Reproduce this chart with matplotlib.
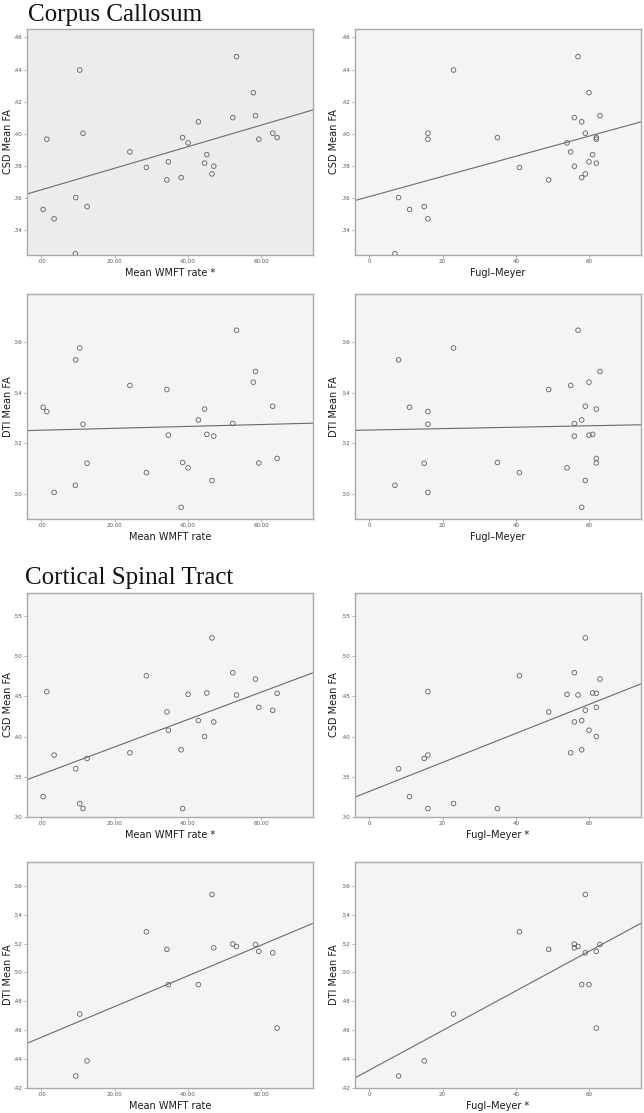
"""FA vs motor score scatter panels (CSD / DTI, corpus callosum and CST)."""

import matplotlib

matplotlib.use("Agg")

import matplotlib.pyplot as plt
import numpy as np

nan = np.nan

# one entry per subject
wmft = [53.3, 10.5, 9.4, 58.5, 57.9, 24.2, 34.3, 63.2, 0.5, 44.6, 1.5, 42.9, 11.4, 52.3,
        45.2, 34.7, 47.1, 12.5, 38.6, 59.4, 64.4, 40.1, 28.7, 46.6, 9.3, 3.5, 38.2]
fugl_meyer = [57, 23, 8, 63, 60, 55, 49, 59, 11, 62, 16, 58, 16, 56,
              61, 60, 56, 15, 35, 62, 62, 54, 41, 59, 7, 16, 58]
csd_cc = [.448, .4397, .3604, .4113, .4256, .3888, .3714, .4004, .353, .3818, .3967, .4075, .4004, .4101,
          .3871, .3826, .3799, .3548, .3977, .3967, .3977, .3944, .3791, .3751, .3255, .3472, .3728]
dti_cc = [.5646, .5576, .5529, .5483, .5441, .5428, .5412, .5346, .5342, .5335, .5325, .5292, .5275, .5278,
          .5235, .5232, .5228, .5121, .5124, .5122, .514, .5103, .5084, .5053, .5034, .5006, .4947]
csd_cst = [.4517, .3167, .36, .4715, nan, .3798, .4306, .4327, .3253, .4001, .4558, .4199, .3105, .4794,
           .4542, .4079, .4182, .3728, .3105, .4364, .4538, .4525, .4757, .5227, nan, .377, .3836]
dti_cst = [.518, .4712, .4283, .5194, nan, nan, .516, .5136, nan, nan, nan, .4916, nan, .5197,
           nan, .4916, .5171, .4388, nan, .5146, .4615, nan, .5282, .554, nan, nan, nan]

wmft_ticks = [0, 20, 40, 60]
wmft_labels = [".00", "20.00", "40.00", "60.00"]
fm_ticks = [0, 20, 40, 60]
fm_labels = ["0", "20", "40", "60"]

# (y values, y label, ylim, yticks, rows top/bottom in px)
rows = [
    (csd_cc, "CSD Mean FA", (.3247, .4652), np.arange(.34, .461, .02), (29, 255)),
    (dti_cc, "DTI Mean FA", (.4901, .5789), np.arange(.50, .561, .02), (294, 519)),
    (csd_cst, "CSD Mean FA", (.30, .5785), np.arange(.30, .551, .05), (593, 817)),
    (dti_cst, "DTI Mean FA", (.42, .5765), np.arange(.42, .561, .02), (862, 1088)),
]
stars = [(True, False), (False, False), (True, True), (False, True)]

W, H = 644, 1113
fig = plt.figure(figsize=(W / 100, H / 100), dpi=100)

for r, (yvals, ylab, ylim, yticks, (top, bot)) in enumerate(rows):
    for c, (xvals, xlab, ticks, labels) in enumerate(
        [(wmft, "Mean WMFT rate", wmft_ticks, wmft_labels),
         (fugl_meyer, "Fugl\u2013Meyer", fm_ticks, fm_labels)]
    ):
        left = 27 if c == 0 else 355
        ax_w, ax_h = 286, bot - top
        ax = fig.add_axes([left / W, 1 - bot / H, ax_w / W, ax_h / H])
        ax.set_facecolor("#ececec" if (r, c) == (0, 0) else "#f4f4f4")

        x = np.asarray(xvals, float)
        y = np.asarray(yvals, float)
        ok = ~np.isnan(y)
        ax.scatter(x[ok], y[ok], s=11, facecolors="none", edgecolors="#606060",
                   linewidths=0.6, zorder=3)
        slope, icpt = np.polyfit(x[ok], y[ok], 1)
        xl = np.array([-3.9, 74.2])
        ax.plot(xl, icpt + slope * xl, color="#6a6a6a", lw=0.8, zorder=2)

        ax.set_xlim(-3.9, 74.2)
        ax.set_ylim(*ylim)
        ax.set_xticks(ticks)
        ax.set_xticklabels(labels)
        ax.set_yticks(yticks)
        ax.set_yticklabels([f"{v:.2f}"[1:] for v in yticks])
        ax.tick_params(labelsize=4, labelcolor="#555555", color="#999999",
                       length=2, width=0.5, pad=1.2)
        for sp in ax.spines.values():
            sp.set_color("#aaaaaa")
            sp.set_linewidth(1.0)

        label = xlab + (" *" if stars[r][c] else "")
        ax.set_xlabel(label, fontsize=7, color="#1a1a1a")
        ax.xaxis.label.set_va("center")
        ax.xaxis.set_label_coords(0.5, -18 / ax_h)
        ax.set_ylabel(ylab, fontsize=7, color="#1a1a1a")
        ax.yaxis.label.set_va("center")
        ax.yaxis.set_label_coords((-19 if c == 0 else -21) / ax_w, 0.5)

fig.text(28 / W, 1 - 21 / H, "Corpus Callosum", family="Liberation Serif",
         fontsize=18, color="#111111")
fig.text(25 / W, 1 - 584 / H, "Cortical Spinal Tract", family="Liberation Serif",
         fontsize=18, color="#111111")

fig.savefig("out.png", dpi=100)
plt.close(fig)
